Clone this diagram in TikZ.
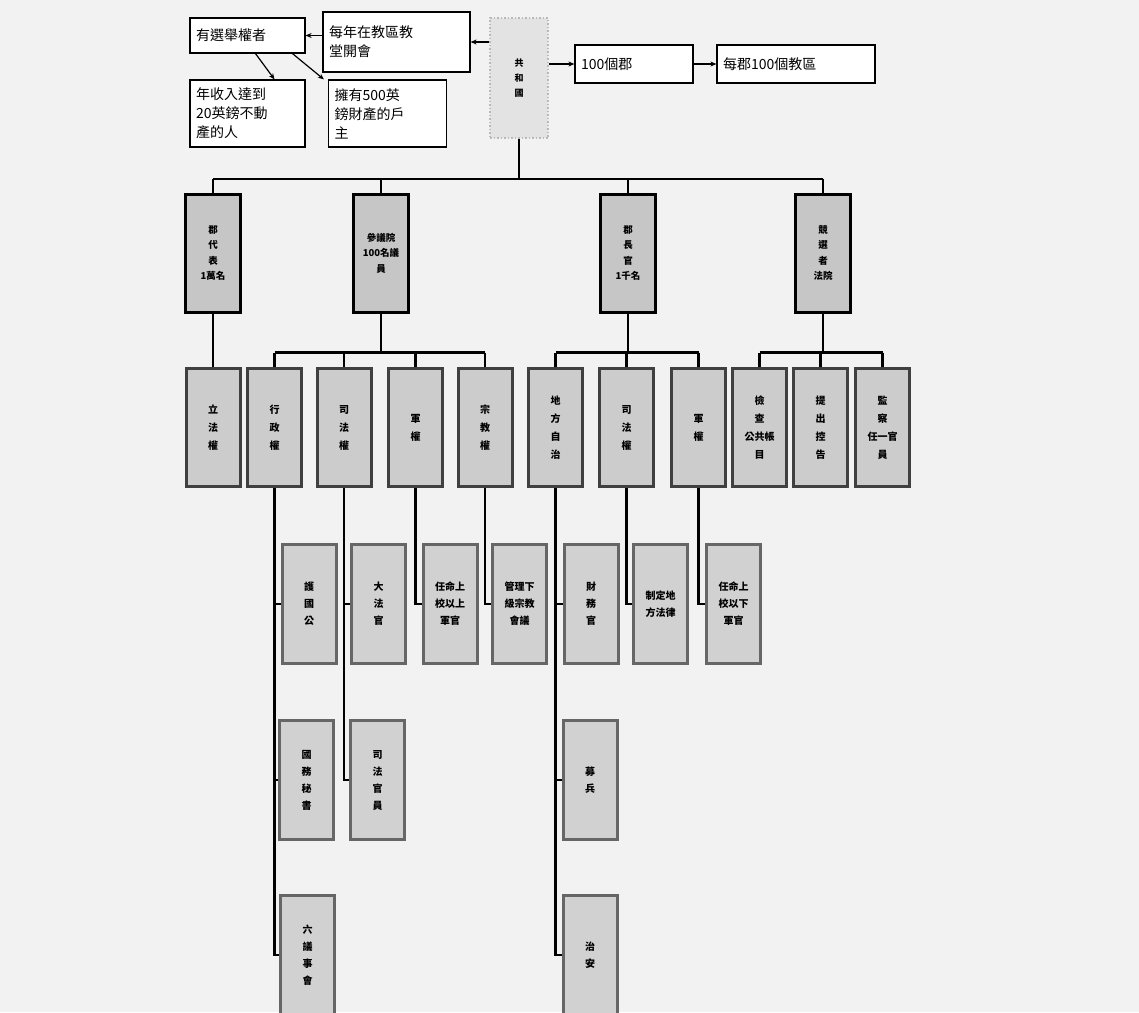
\documentclass[tikz,border=0pt]{standalone}
\usepackage{fontspec}
\newfontfamily\cjk{Noto Sans CJK TC}
\usetikzlibrary{arrows.meta}
\begin{document}
\begin{tikzpicture}[x=1pt,y=-1pt,
  wbox/.style={draw=black,line width=1.2pt,fill=white,font=\cjk\fontsize{14}{19}\selectfont,align=left,inner xsep=6pt,inner ysep=3pt,text width=#1-12pt},
  repbox/.style={draw=gray!55,dotted,line width=1.5pt,fill=gray!22,font=\cjk\bfseries\fontsize{9}{15}\selectfont,align=center,inner sep=0pt,minimum width=58pt,minimum height=120pt},
  topbox/.style={draw=black,line width=3pt,fill=gray!45,font=\cjk\bfseries\fontsize{9.5}{15.5}\selectfont,align=center,inner sep=0pt,minimum width=55pt,minimum height=118pt},
  midbox/.style={draw=black!75,line width=3pt,fill=gray!40,font=\cjk\bfseries\fontsize{10}{18}\selectfont,align=center,inner sep=0pt,minimum width=54pt,minimum height=118pt},
  lowbox/.style={draw=black!60,line width=3pt,fill=gray!36,font=\cjk\bfseries\fontsize{10}{17}\selectfont,align=center,inner sep=0pt,minimum width=54pt,minimum height=119pt},
  link/.style={draw=black,line width=2.2pt},
  arr/.style={draw=black,line width=1.2pt,-{Stealth[length=6pt,width=5pt]}}
]
\useasboundingbox (0,0) rectangle (1139,1012);
\fill[black!5] (0,0) rectangle (1139,1012);
\clip (0,0) rectangle (1139,1012);

% top white boxes
\node[wbox=115pt,minimum height=35pt] (vote) at (247.5,35.5) {有選舉權者};
\node[wbox=147pt,minimum height=60pt] (meet) at (396.5,42) {每年在教區教\\堂開會};
\node[repbox] (rep) at (519,78) {共\\和\\國};
\node[wbox=118pt,minimum height=38pt] (county) at (634,64) {100個郡};
\node[wbox=158pt,minimum height=38pt] (parish) at (796,64) {每郡100個教區};
\node[wbox=115pt,minimum height=67pt] (income) at (247.5,113.5) {年收入達到\\20英鎊不動\\產的人};
\node[wbox=118pt,minimum height=67pt] (owner) at (387.5,113.5) {擁有500英\\鎊財產的戶\\主};

\draw[arr] (rep.west |- meet.east) -- (meet.east);
\draw[arr] (meet.west |- vote.east) -- (vote.east);
\draw[arr] (rep.east |- county.west) -- (county.west);
\draw[arr] (county.east) -- (parish.west);
\draw[arr] ([xshift=8pt]vote.south) -- ([xshift=27pt]income.north);
\draw[arr] ([xshift=45pt]vote.south) -- ([xshift=-4pt]owner.north west);

% top level
\node[topbox] (t1) at (213,253) {郡\\代\\表\\1萬名};
\node[topbox] (t2) at (381,253) {參議院\\100名議\\員};
\node[topbox] (t3) at (628,253) {郡\\長\\官\\1千名};
\node[topbox] (t4) at (823,253) {競\\選\\者\\法院};

% second level
\node[midbox] (s1) at (213,427.5) {立\\法\\權};
\node[midbox] (s2) at (274.5,427.5) {行\\政\\權};
\node[midbox] (s3) at (344,427.5) {司\\法\\權};
\node[midbox] (s4) at (415.5,427.5) {軍\\權};
\node[midbox] (s5) at (485,427.5) {宗\\教\\權};
\node[midbox] (s6) at (555.5,427.5) {地\\方\\自\\治};
\node[midbox] (s7) at (626.5,427.5) {司\\法\\權};
\node[midbox] (s8) at (698.5,427.5) {軍\\權};
\node[midbox] (s9) at (759.5,427.5) {檢\\查\\公共帳\\目};
\node[midbox] (s10) at (820.5,427.5) {提\\出\\控\\告};
\node[midbox] (s11) at (882.5,427.5) {監\\察\\任一官\\員};

% third level, row A
\node[lowbox] (a1) at (309,604) {護\\國\\公};
\node[lowbox] (a2) at (378.5,604) {大\\法\\官};
\node[lowbox] (a3) at (450,604) {任命上\\校以上\\軍官};
\node[lowbox] (a4) at (519.5,604) {管理下\\級宗教\\會議};
\node[lowbox] (a5) at (591,604) {財\\務\\官};
\node[lowbox] (a6) at (660.5,604) {制定地\\方法律};
\node[lowbox] (a7) at (733.5,604) {任命上\\校以下\\軍官};
% row B
\node[lowbox] (b1) at (306.5,780) {國\\務\\秘\\書};
\node[lowbox] (b2) at (377.5,780) {司\\法\\官\\員};
\node[lowbox] (b3) at (590,780) {募\\兵};
% row C
\node[lowbox] (c1) at (307.5,955) {六\\議\\事\\會};
\node[lowbox] (c2) at (590,955) {治\\安};

% connectors: republic to top level
\draw[link] (rep.south) -- ++(0,40) coordinate (bus0);
\draw[link] (t1.north |- bus0) -- (t4.north |- bus0);
\foreach \n in {t1,t2,t3,t4} \draw[link] (\n.north |- bus0) -- (\n.north);

% top level to second level
\draw[link] (t1.south) -- (s1.north);
\draw[link] (t2.south) -- ++(0,39) coordinate (bus2);
\draw[link] (s2.north |- bus2) -- (s5.north |- bus2);
\foreach \n in {s2,s3,s4,s5} \draw[link] (\n.north |- bus2) -- (\n.north);
\draw[link] (t3.south) -- ++(0,39) coordinate (bus3);
\draw[link] (s6.north |- bus3) -- (s8.north |- bus3);
\foreach \n in {s6,s7,s8} \draw[link] (\n.north |- bus3) -- (\n.north);
\draw[link] (t4.south) -- ++(0,39) coordinate (bus4);
\draw[link] (s9.north |- bus4) -- (s11.north |- bus4);
\foreach \n in {s9,s10,s11} \draw[link] (\n.north |- bus4) -- (\n.north);

% second level to third level
\draw[link] (s2.south) |- (c1.west);
\draw[link] (s2.south |- a1.west) -- (a1.west);
\draw[link] (s2.south |- b1.west) -- (b1.west);
\draw[link] (s3.south) |- (b2.west);
\draw[link] (s3.south |- a2.west) -- (a2.west);
\draw[link] (s4.south) |- (a3.west);
\draw[link] (s5.south) |- (a4.west);
\draw[link] (s6.south) |- (c2.west);
\draw[link] (s6.south |- a5.west) -- (a5.west);
\draw[link] (s6.south |- b3.west) -- (b3.west);
\draw[link] (s7.south) |- (a6.west);
\draw[link] (s8.south) |- (a7.west);
\end{tikzpicture}
\end{document}
